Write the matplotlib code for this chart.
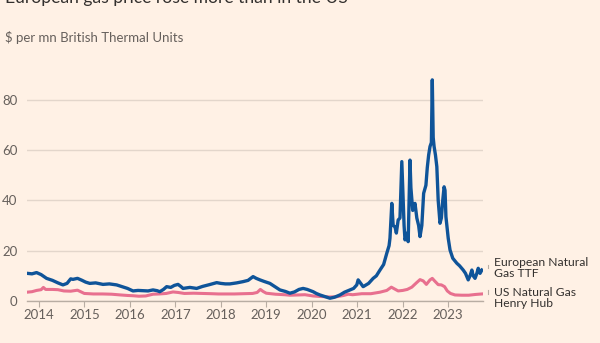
import matplotlib
matplotlib.use("Agg")
import matplotlib.pyplot as plt
from matplotlib.lines import Line2D

# ---- data (decimal years, $/mn BTU) ----
ttf_years = [2013.74, 2013.85, 2013.95, 2014.05, 2014.17, 2014.30, 2014.42, 2014.53, 2014.62, 2014.70,
             2014.75, 2014.85, 2014.94, 2015.03, 2015.12, 2015.25, 2015.41, 2015.55, 2015.71, 2015.85,
             2015.95, 2016.07, 2016.18, 2016.29, 2016.40, 2016.51, 2016.60, 2016.66, 2016.74, 2016.81,
             2016.90, 2016.98, 2017.06, 2017.12, 2017.17, 2017.32, 2017.47, 2017.60, 2017.75, 2017.91,
             2018.00, 2018.10, 2018.20, 2018.35, 2018.49, 2018.60, 2018.71, 2018.78, 2018.86, 2018.95,
             2019.08, 2019.18, 2019.30, 2019.42, 2019.52, 2019.62, 2019.72, 2019.81, 2019.90, 2020.03,
             2020.10, 2020.18, 2020.28, 2020.40, 2020.50, 2020.62, 2020.72, 2020.84, 2020.92, 2020.99,
             2021.02, 2021.13, 2021.25, 2021.35, 2021.42, 2021.50, 2021.58, 2021.65, 2021.70, 2021.72,
             2021.76, 2021.79, 2021.83, 2021.86, 2021.90, 2021.94, 2021.98, 2022.01, 2022.03, 2022.05,
             2022.10, 2022.12, 2022.16, 2022.18, 2022.22, 2022.27, 2022.31, 2022.35, 2022.38, 2022.42,
             2022.46, 2022.51, 2022.54, 2022.57, 2022.60, 2022.63, 2022.65, 2022.67, 2022.69, 2022.72,
             2022.75, 2022.78, 2022.82, 2022.85, 2022.88, 2022.91, 2022.93, 2022.95, 2023.00, 2023.04,
             2023.10, 2023.19, 2023.25, 2023.33, 2023.38, 2023.44, 2023.48, 2023.52, 2023.55, 2023.59,
             2023.63, 2023.66, 2023.70, 2023.74]
ttf_values = [11.0, 10.8, 11.3, 10.5, 9.0, 8.2, 7.2, 6.4, 7.0, 8.8,
              8.6, 9.0, 8.3, 7.5, 7.0, 7.2, 6.6, 6.8, 6.4, 5.6,
              5.0, 4.0, 4.2, 4.1, 4.0, 4.4, 4.1, 3.7, 4.6, 5.7,
              5.4, 6.2, 6.6, 5.8, 5.0, 5.4, 5.0, 5.8, 6.5, 7.3,
              7.0, 6.8, 6.8, 7.2, 7.7, 8.2, 9.7, 9.0, 8.4, 7.8,
              7.0, 5.8, 4.4, 3.8, 3.1, 3.6, 4.6, 5.0, 4.6, 3.7,
              3.0, 2.4, 1.8, 1.1, 1.5, 2.4, 3.5, 4.4, 5.0, 6.4,
              8.4, 5.7, 7.0, 9.0, 10.0, 12.3, 14.5, 19.0, 22.0, 25.0,
              38.8, 30.0, 29.5, 27.0, 32.2, 33.0, 55.4, 40.0, 30.0, 24.3,
              27.0, 23.6, 56.0, 45.0, 36.0, 38.8, 33.0, 30.0, 25.6, 30.0,
              42.8, 46.0, 53.0, 58.0, 61.4, 63.0, 87.9, 65.0, 61.4, 58.0,
              53.4, 40.0, 30.9, 33.0, 40.0, 45.4, 44.0, 33.5, 25.0, 20.3,
              17.0, 15.0, 14.0, 12.3, 11.0, 8.4, 10.0, 12.3, 10.0, 9.0,
              11.0, 13.0, 11.0, 12.3]

hh_years = [2013.74, 2013.85, 2013.95, 2014.05, 2014.10, 2014.15, 2014.30, 2014.42, 2014.55, 2014.70,
            2014.85, 2014.92, 2015.00, 2015.20, 2015.40, 2015.60, 2015.80, 2015.95, 2016.07, 2016.20,
            2016.35, 2016.51, 2016.65, 2016.80, 2016.95, 2017.06, 2017.20, 2017.40, 2017.60, 2017.80,
            2017.95, 2018.10, 2018.30, 2018.50, 2018.70, 2018.80, 2018.87, 2018.93, 2019.00, 2019.20,
            2019.40, 2019.52, 2019.70, 2019.85, 2020.03, 2020.18, 2020.30, 2020.40, 2020.55, 2020.70,
            2020.80, 2020.90, 2021.00, 2021.10, 2021.30, 2021.50, 2021.65, 2021.75, 2021.80, 2021.90,
            2022.00, 2022.10, 2022.20, 2022.30, 2022.38, 2022.45, 2022.52, 2022.60, 2022.65, 2022.70,
            2022.78, 2022.85, 2022.92, 2022.98, 2023.05, 2023.15, 2023.30, 2023.45, 2023.60, 2023.74]
hh_values = [3.5, 3.7, 4.2, 4.5, 5.4, 4.6, 4.6, 4.5, 4.0, 3.9,
             4.3, 3.7, 3.0, 2.8, 2.8, 2.7, 2.4, 2.2, 2.1, 1.9,
             2.0, 2.7, 2.8, 3.0, 3.6, 3.4, 3.0, 3.1, 3.0, 2.9,
             2.8, 2.8, 2.8, 2.9, 3.0, 3.4, 4.6, 3.8, 3.1, 2.7,
             2.5, 2.3, 2.4, 2.5, 2.0, 1.8, 1.7, 1.6, 1.7, 2.2,
             2.7, 2.5, 2.7, 2.9, 2.9, 3.5, 4.2, 5.5, 5.0, 4.0,
             4.2, 4.6, 5.5, 7.2, 8.5, 8.0, 6.6, 8.4, 9.0, 8.0,
             6.5, 6.4, 5.7, 4.0, 3.0, 2.4, 2.3, 2.3, 2.6, 2.8]

year_ticks = list(range(2014, 2024))
y_ticks = [0, 20, 40, 60, 80]
title = "European gas price rose more than in the US"
subtitle = "$ per mn British Thermal Units"
ttf_label = "European Natural\nGas TTF"
hh_label = "US Natural Gas\nHenry Hub"

# ---- style ----
BG = "#fff1e5"
BLUE = "#0f5499"
PINK = "#e8708f"
GRID = "#e3d6cb"
TXT = "#66605c"
DARK = "#33302e"
plt.rcParams['font.family'] = ['Lato', 'DejaVu Sans']

fig = plt.figure(figsize=(6, 3.43), dpi=100, facecolor=BG)
ax = fig.add_axes([27/600, 42/343, 456/600, 226.4/343])
ax.set_facecolor(BG)

ax.plot(hh_years, hh_values, color=PINK, lw=2.2, solid_joinstyle='round', zorder=3)
ax.plot(ttf_years, ttf_values, color=BLUE, lw=2.4, solid_joinstyle='round', zorder=4)

ax.set_xlim(2013.74, 2023.765)
ax.set_ylim(0, 90)
ax.set_yticks(y_ticks)
ax.set_xticks(year_ticks)
ax.set_xticklabels([str(y) for y in year_ticks])
ax.grid(axis='y', color=GRID, lw=1)
ax.set_axisbelow(True)
for s in ['top', 'right', 'left']:
    ax.spines[s].set_visible(False)
ax.spines['bottom'].set_color('#b8ada3')
ax.spines['bottom'].set_linewidth(1)
ax.tick_params(axis='y', length=0, pad=7, labelsize=9.5, labelcolor=TXT)
ax.tick_params(axis='x', length=4, width=0.8, color='#b8ada3', pad=2, labelsize=9.5, labelcolor=TXT)

# right-side labels
ax.text(1.025, 13.2 / 90, ttf_label, transform=ax.transAxes, va='center', ha='left',
        fontsize=8.7, color=DARK, linespacing=1.0)
ax.text(1.025, 1.3 / 90, hh_label, transform=ax.transAxes, va='center', ha='left',
        fontsize=8.7, color=DARK, linespacing=1.0)
for yv in (13.7, 3.6):
    ax.add_line(Line2D([1.011, 1.011], [(yv - 0.7) / 90, (yv + 0.7) / 90], transform=ax.transAxes,
                       color='#b8ada3', lw=0.8, clip_on=False))

fig.text(5/600, 1 - 3.2/343, title, fontsize=12.6, color=DARK, va='baseline', ha='left')
fig.text(5/600, 1 - 37/343, subtitle, fontsize=9.5, color=TXT, va='center', ha='left')

fig.savefig("out.png", dpi=100, facecolor=BG)
